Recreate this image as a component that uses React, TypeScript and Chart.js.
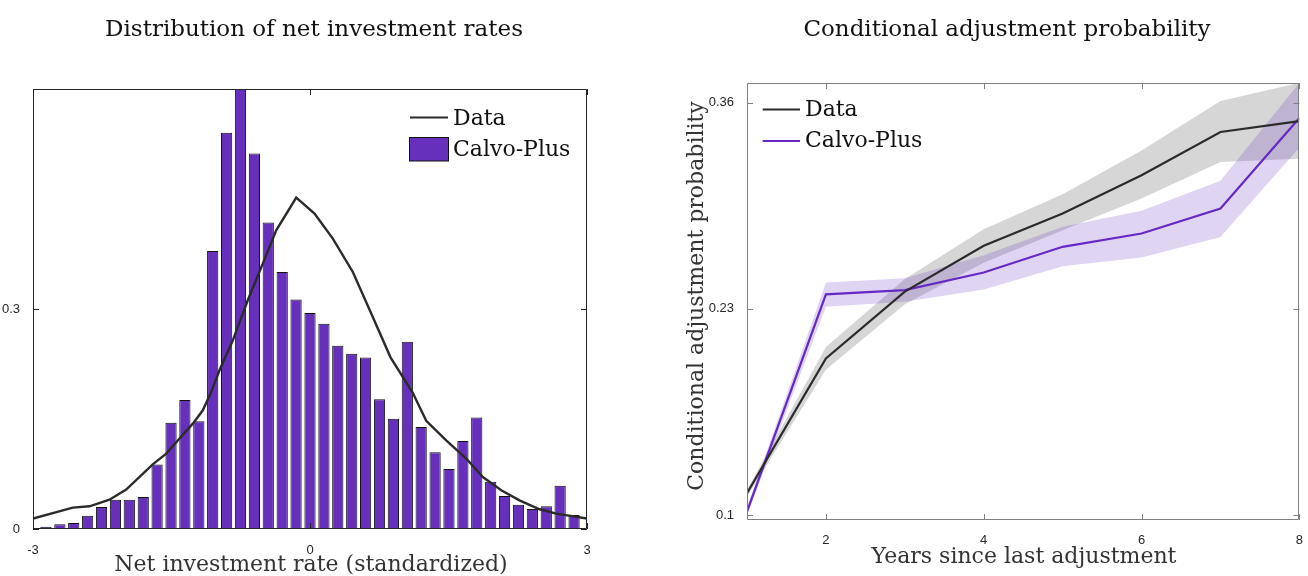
import React, { useEffect, useRef } from 'react';
import { Chart, registerables } from 'chart.js';

Chart.register(...registerables);

// ---------- Left panel: distribution of net investment rates ----------
const histCenters = [
  -2.86, -2.709, -2.559, -2.408, -2.258, -2.107, -1.957, -1.806, -1.656, -1.505,
  -1.355, -1.204, -1.054, -0.903, -0.753, -0.602, -0.452, -0.301, -0.151, 0,
  0.151, 0.301, 0.452, 0.602, 0.753, 0.903, 1.054, 1.204, 1.355, 1.505,
  1.656, 1.806, 1.957, 2.107, 2.258, 2.408, 2.559, 2.709, 2.86,
];
const histValues = [
  0.003, 0.0064, 0.0082, 0.018, 0.03, 0.04, 0.04, 0.0436, 0.088, 0.145,
  0.176, 0.147, 0.379, 0.5405, 0.6, 0.512, 0.418, 0.3505, 0.313, 0.2945,
  0.28, 0.25, 0.239, 0.2337, 0.177, 0.1505, 0.2555, 0.139, 0.1046, 0.0818,
  0.12, 0.152, 0.0646, 0.045, 0.0332, 0.0273, 0.031, 0.059, 0.019,
];
const densityX = [
  -3.0, -2.569, -2.388, -2.172, -1.991, -1.703, -1.557, -1.413, -1.269, -1.161,
  -1.07, -0.98, -0.836, -0.674, -0.511, -0.366, -0.149, 0.049, 0.247, 0.464,
  0.68, 0.872, 1.11, 1.259, 1.475, 1.692, 1.872, 2.071, 2.269, 2.486, 2.667, 3.0,
];
const densityY = [
  0.0142, 0.0292, 0.031, 0.04, 0.0537, 0.0882, 0.1028, 0.1233, 0.1437, 0.1619,
  0.1868, 0.2164, 0.2573, 0.3119, 0.3619, 0.4073, 0.4519, 0.4301, 0.396, 0.3505,
  0.289, 0.2341, 0.1864, 0.1476, 0.121, 0.0961, 0.0709, 0.0528, 0.0391, 0.0269, 0.021, 0.0142,
];
const leftXTicks = [-3, 0, 3];
const leftYTicks = [0, 0.3];

// ---------- Right panel: conditional adjustment probability ----------
const years = [1, 2, 3, 4, 5, 6, 7, 8];
const dataProb = [0.1137, 0.1987, 0.2408, 0.2697, 0.2901, 0.3142, 0.3415, 0.3484];
const dataLow = [0.1115, 0.1915, 0.2328, 0.259, 0.2796, 0.2995, 0.3226, 0.3246];
const dataHigh = [0.1159, 0.2059, 0.2488, 0.2802, 0.3023, 0.3299, 0.361, 0.3725];
const calvoProb = [0.1021, 0.2391, 0.2418, 0.2529, 0.2691, 0.2775, 0.2933, 0.3503];
const calvoLow = [0.0995, 0.2313, 0.2345, 0.2422, 0.2569, 0.2624, 0.2753, 0.3318];
const calvoHigh = [0.1047, 0.2466, 0.2492, 0.2638, 0.2817, 0.2918, 0.3107, 0.3725];
const rightXTicks = [2, 4, 6, 8];
const rightYTicks = [0.1, 0.23, 0.36];

const PURPLE = '#6630bc';
const PURPLE_LINE = '#6629c4';
const DARK = '#2b2b2b';
const SERIF = '"DejaVu Serif", serif';
const SANS = '"Liberation Sans", Arial, sans-serif';
const TICK_SIZE = 13;

type TextSpec = {
  title: string;
  titleX: number;
  titleY: number;
  xLabel: string;
  xLabelX: number;
  xLabelY: number;
  yLabel?: string;
  yLabelX?: number;
  yLabelY?: number;
  axisColor: string;
  legend: (ctx: CanvasRenderingContext2D) => void;
};

function framePlugin(spec: TextSpec) {
  return {
    id: 'frameAndText',
    afterDatasetsDraw(chart: any) {
      const { ctx, chartArea: a, scales } = chart;
      const x = scales.x;
      const y = scales.y;
      ctx.save();
      ctx.strokeStyle = spec.axisColor;
      ctx.lineWidth = 1;
      ctx.beginPath();
      ctx.rect(Math.round(a.left) + 0.5, Math.round(a.top) + 0.5, Math.round(a.right - a.left) - 1, Math.round(a.bottom - a.top) - 1);
      ctx.stroke();
      const tl = 6;
      ctx.beginPath();
      for (const t of x.ticks) {
        const px = Math.round(x.getPixelForValue(t.value)) + 0.5;
        ctx.moveTo(px, a.bottom);
        ctx.lineTo(px, a.bottom - tl);
        ctx.moveTo(px, a.top);
        ctx.lineTo(px, a.top + tl);
      }
      for (const t of y.ticks) {
        const py = Math.round(y.getPixelForValue(t.value)) + 0.5;
        ctx.moveTo(a.left, py);
        ctx.lineTo(a.left + tl, py);
        ctx.moveTo(a.right, py);
        ctx.lineTo(a.right - tl, py);
      }
      ctx.stroke();
      ctx.restore();
    },
    afterDraw(chart: any) {
      const { ctx } = chart;
      ctx.save();
      ctx.fillStyle = '#111';
      ctx.textBaseline = 'alphabetic';
      ctx.textAlign = 'center';
      ctx.font = `23px ${SERIF}`;
      ctx.fillText(spec.title, spec.titleX, spec.titleY);
      ctx.fillStyle = '#333';
      ctx.font = `22px ${SERIF}`;
      ctx.fillText(spec.xLabel, spec.xLabelX, spec.xLabelY);
      if (spec.yLabel) {
        ctx.save();
        ctx.translate(spec.yLabelX as number, spec.yLabelY as number);
        ctx.rotate(-Math.PI / 2);
        ctx.fillText(spec.yLabel, 0, 0);
        ctx.restore();
      }
      spec.legend(ctx);
      ctx.restore();
    },
  };
}

function fixedTicks(values: number[]) {
  return (scale: any) => {
    scale.ticks = values.map((v) => ({ value: v }));
  };
}

function LeftChart() {
  const ref = useRef<HTMLCanvasElement | null>(null);
  useEffect(() => {
    if (!ref.current) return;
    const spec: TextSpec = {
      title: 'Distribution of net investment rates',
      titleX: 314,
      titleY: 36,
      xLabel: 'Net investment rate (standardized)',
      xLabelX: 311,
      xLabelY: 571,
      axisColor: '#262626',
      legend: (ctx) => {
        ctx.strokeStyle = DARK;
        ctx.lineWidth = 2;
        ctx.beginPath();
        ctx.moveTo(410, 117.5);
        ctx.lineTo(448, 117.5);
        ctx.stroke();
        ctx.fillStyle = PURPLE;
        ctx.fillRect(409.5, 137.5, 39, 23.5);
        ctx.strokeStyle = '#111';
        ctx.lineWidth = 1;
        ctx.strokeRect(409.5, 137.5, 39, 23.5);
        ctx.fillStyle = '#111';
        ctx.textAlign = 'left';
        ctx.font = `22px ${SERIF}`;
        ctx.fillText('Data', 453, 124.5);
        ctx.fillText('Calvo-Plus', 453, 156);
      },
    };
    const chart = new Chart(ref.current, {
      type: 'bar',
      data: {
        datasets: [
          {
            type: 'line',
            label: 'Data',
            data: densityX.map((x, i) => ({ x, y: densityY[i] })),
            borderColor: DARK,
            borderWidth: 2.4,
            pointRadius: 0,
            tension: 0,
            order: 0,
          } as any,
          {
            type: 'bar',
            label: 'Calvo-Plus',
            data: histCenters.map((x, i) => ({ x, y: histValues[i] })),
            backgroundColor: PURPLE,
            borderColor: '#111',
            borderWidth: 1,
            categoryPercentage: 1,
            barPercentage: 0.81,
            order: 1,
          },
        ],
      },
      options: {
        animation: false,
        responsive: false,
        events: [],
        layout: { padding: { top: 89, right: 67, left: 0, bottom: 0 } },
        plugins: { legend: { display: false }, tooltip: { enabled: false }, title: { display: false } },
        scales: {
          x: {
            type: 'linear',
            min: -3,
            max: 3,
            offset: false,
            grid: { display: false, offset: false },
            border: { display: false },
            afterBuildTicks: fixedTicks(leftXTicks),
            afterFit: (s: any) => { s.height = 47; },
            ticks: {
              autoSkip: false,
              maxRotation: 0,
              padding: 6,
              color: '#262626',
              font: { family: SANS, size: TICK_SIZE },
              callback: (v: any) => String(v),
            },
          },
          y: {
            type: 'linear',
            min: 0,
            max: 0.6,
            grid: { display: false },
            border: { display: false },
            afterBuildTicks: fixedTicks(leftYTicks),
            afterFit: (s: any) => { s.width = 33; },
            ticks: {
              autoSkip: false,
              padding: 5,
              color: '#262626',
              font: { family: SANS, size: TICK_SIZE },
              callback: (v: any) => String(v),
            },
          },
        },
      },
      plugins: [framePlugin(spec)],
    } as any);
    return () => chart.destroy();
  }, []);
  return <canvas ref={ref} width={654} height={576} style={{ position: 'absolute', left: 0, top: 0 }} />;
}

function RightChart() {
  const ref = useRef<HTMLCanvasElement | null>(null);
  useEffect(() => {
    if (!ref.current) return;
    const spec: TextSpec = {
      title: 'Conditional adjustment probability',
      titleX: 353,
      titleY: 36,
      xLabel: 'Years since last adjustment',
      xLabelX: 370,
      xLabelY: 563,
      yLabel: 'Conditional adjustment probability',
      yLabelX: 49,
      yLabelY: 296,
      axisColor: '#808080',
      legend: (ctx) => {
        ctx.lineWidth = 2;
        ctx.strokeStyle = DARK;
        ctx.beginPath();
        ctx.moveTo(108.7, 109.5);
        ctx.lineTo(146, 109.5);
        ctx.stroke();
        ctx.strokeStyle = PURPLE_LINE;
        ctx.beginPath();
        ctx.moveTo(108.7, 141);
        ctx.lineTo(146, 141);
        ctx.stroke();
        ctx.fillStyle = '#111';
        ctx.textAlign = 'left';
        ctx.font = `22px ${SERIF}`;
        ctx.fillText('Data', 151, 115.5);
        ctx.fillText('Calvo-Plus', 151, 147);
      },
    };
    const pts = (ys: number[]) => years.map((x, i) => ({ x, y: ys[i] }));
    const band = { pointRadius: 0, borderWidth: 0, borderColor: 'rgba(0,0,0,0)', tension: 0, order: 5 };
    const chart = new Chart(ref.current, {
      type: 'line',
      data: {
        datasets: [
          { label: 'Data', data: pts(dataProb), borderColor: DARK, borderWidth: 2.2, pointRadius: 0, tension: 0, order: 0, fill: false },
          { label: 'Calvo-Plus', data: pts(calvoProb), borderColor: PURPLE_LINE, borderWidth: 2.2, pointRadius: 0, tension: 0, order: 0, fill: false },
          { label: 'Calvo hi', data: pts(calvoHigh), ...band, fill: '+1', backgroundColor: 'rgba(102,41,196,0.2)' },
          { label: 'Calvo lo', data: pts(calvoLow), ...band, fill: false },
          { label: 'Data hi', data: pts(dataHigh), ...band, fill: '+1', backgroundColor: 'rgba(120,120,120,0.3)' },
          { label: 'Data lo', data: pts(dataLow), ...band, fill: false },
        ],
      },
      options: {
        animation: false,
        responsive: false,
        events: [],
        layout: { padding: { top: 83, right: 6, left: 0, bottom: 0 } },
        plugins: { legend: { display: false }, tooltip: { enabled: false }, title: { display: false } },
        scales: {
          x: {
            type: 'linear',
            min: 1,
            max: 8,
            offset: false,
            grid: { display: false },
            border: { display: false },
            afterBuildTicks: fixedTicks(rightXTicks),
            afterFit: (s: any) => { s.height = 56; },
            ticks: {
              autoSkip: false,
              maxRotation: 0,
              padding: 5,
              color: '#262626',
              font: { family: SANS, size: TICK_SIZE },
              callback: (v: any) => String(v),
            },
          },
          y: {
            type: 'linear',
            min: 0.0968,
            max: 0.3724,
            grid: { display: false },
            border: { display: false },
            afterBuildTicks: fixedTicks(rightYTicks),
            afterFit: (s: any) => { s.width = 93; },
            ticks: {
              autoSkip: false,
              padding: 5,
              color: '#262626',
              font: { family: SANS, size: TICK_SIZE },
              callback: (v: any) => String(v),
            },
          },
        },
      },
      plugins: [framePlugin(spec)],
    } as any);
    return () => chart.destroy();
  }, []);
  return <canvas ref={ref} width={654} height={576} style={{ position: 'absolute', left: 654, top: 0 }} />;
}

export default function App() {
  return (
    <div style={{ position: 'absolute', left: 0, top: 0, width: 1308, height: 576, background: '#ffffff', overflow: 'hidden' }}>
      <LeftChart />
      <RightChart />
    </div>
  );
}
